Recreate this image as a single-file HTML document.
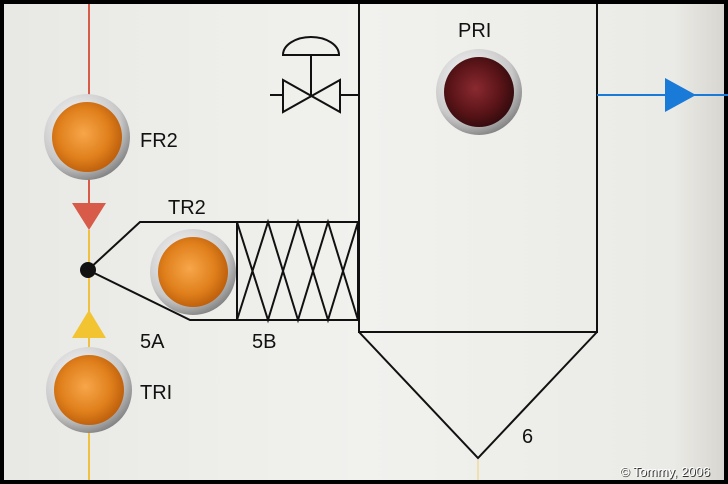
<!DOCTYPE html>
<html><head><meta charset="utf-8"><style>
html,body{margin:0;padding:0;background:#000;}
svg{display:block;}
text{font-family:"Liberation Sans",sans-serif;}
</style></head><body>
<svg width="728" height="484" viewBox="0 0 728 484" xmlns="http://www.w3.org/2000/svg">
<defs>
<linearGradient id="bg" x1="0" y1="0" x2="1" y2="0">
<stop offset="0" stop-color="#e8e8e4"/><stop offset="0.5" stop-color="#f1f1ee"/><stop offset="0.93" stop-color="#eaeae6"/><stop offset="1" stop-color="#d8d6d0"/>
</linearGradient>
<radialGradient id="amber" cx="0.45" cy="0.45" r="0.6">
<stop offset="0" stop-color="#f7a64a"/><stop offset="0.6" stop-color="#e0801c"/><stop offset="1" stop-color="#b85a0a"/>
</radialGradient>
<radialGradient id="red" cx="0.45" cy="0.45" r="0.6">
<stop offset="0" stop-color="#8a2a30"/><stop offset="0.6" stop-color="#5a1418"/><stop offset="1" stop-color="#2e0a0c"/>
</radialGradient>
<radialGradient id="chrome" cx="0.4" cy="0.35" r="0.7">
<stop offset="0" stop-color="#ffffff"/><stop offset="0.7" stop-color="#c8c8c8"/><stop offset="1" stop-color="#7a7a7a"/>
</radialGradient>
</defs>
<rect x="4" y="4" width="720" height="476" fill="url(#bg)"/>
<line x1="89" y1="4" x2="89" y2="205" stroke="#d85a48" stroke-width="2"/>
<line x1="89" y1="230" x2="89" y2="480" stroke="#f0c040" stroke-width="2"/>
<line x1="478" y1="460" x2="478" y2="480" stroke="#f0e0b0" stroke-width="2"/>
<polygon points="72,203 106,203 89,230" fill="#d85a48"/>
<polygon points="72,338 106,338 89,310" fill="#f2c432"/>
<circle cx="88" cy="270" r="8" fill="#111"/>
<g stroke="#111" stroke-width="2" fill="none">
<polyline points="88,270 140,222 357,222"/>
<polyline points="88,270 190,320 357,320"/>
<rect x="237" y="222" width="121" height="98"/>
<polyline points="237,222 268,320 298,222 328,320 358,222"/>
<polyline points="237,320 268,222 298,320 328,222 358,320"/>
<polyline points="359,4 359,332 597,332 597,4"/>
<polyline points="359,332 478,458 597,332"/>
<line x1="270" y1="95" x2="283" y2="95"/>
<line x1="340" y1="95" x2="359" y2="95"/>
<polygon points="283,80 283,112 340,80 340,112"/>
<line x1="311" y1="96" x2="311" y2="55"/>
<path d="M283,55 A28,18 0 0 1 339,55 Z"/>
</g>
<line x1="597" y1="95" x2="728" y2="95" stroke="#1a7ad8" stroke-width="2"/>
<polygon points="665,78 665,112 696,95" fill="#1a7ad8"/>
<g>
<circle cx="87" cy="137" r="43" fill="url(#chrome)"/><circle cx="87" cy="137" r="35" fill="url(#amber)"/>
<circle cx="193" cy="272" r="43" fill="url(#chrome)"/><circle cx="193" cy="272" r="35" fill="url(#amber)"/>
<circle cx="89" cy="390" r="43" fill="url(#chrome)"/><circle cx="89" cy="390" r="35" fill="url(#amber)"/>
<circle cx="479" cy="92" r="43" fill="url(#chrome)"/><circle cx="479" cy="92" r="35" fill="url(#red)"/>
</g>
<g font-size="20" fill="#111">
<text x="458" y="37">PRI</text>
<text x="140" y="147">FR2</text>
<text x="168" y="214">TR2</text>
<text x="140" y="348">5A</text>
<text x="252" y="348">5B</text>
<text x="140" y="399">TRI</text>
<text x="522" y="443">6</text>
</g>
<text x="621" y="477" font-size="13" fill="#333">© Tommy, 2006</text>
<text x="620" y="476" font-size="13" fill="#fff">© Tommy, 2006</text>
</svg>
</body></html>
